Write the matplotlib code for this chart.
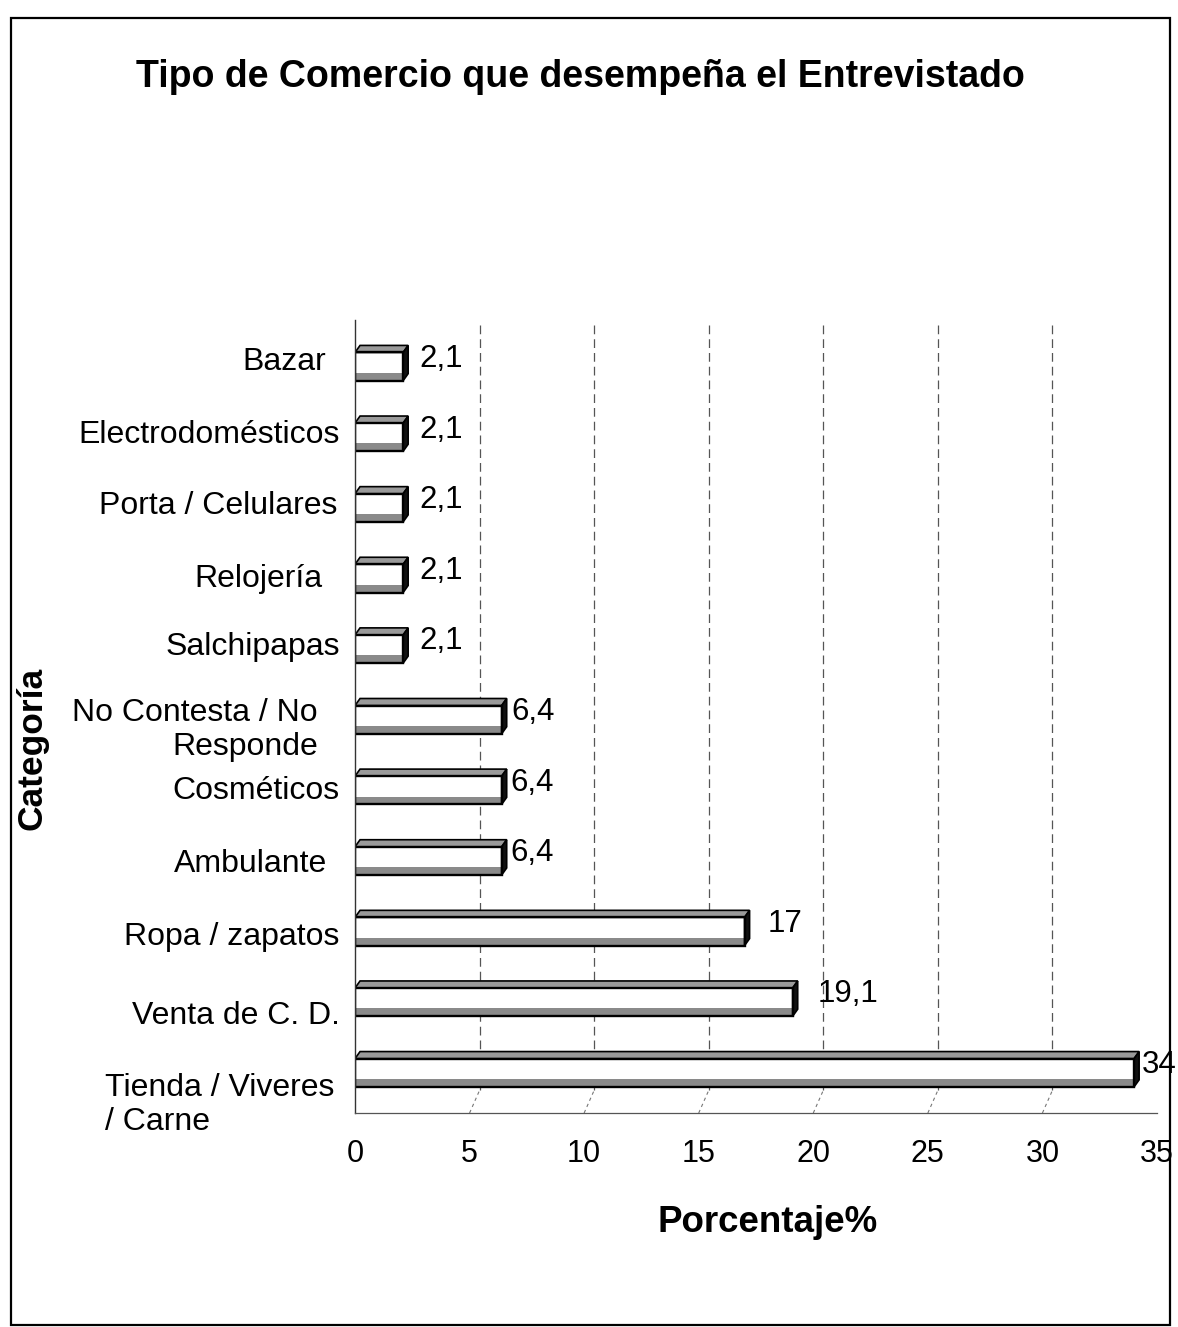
import matplotlib
matplotlib.use("Agg")
import matplotlib.pyplot as plt
from matplotlib.patches import Rectangle, Polygon
from matplotlib.transforms import ScaledTranslation

plt.rcParams['font.family'] = ['Liberation Sans', 'DejaVu Sans']

# ---- data ----
categories = ["Tienda / Viveres\n/ Carne", "Venta de C. D.", "Ropa / zapatos", "Ambulante",
              "Cosméticos", "No Contesta / No\nResponde", "Salchipapas", "Relojería",
              "Porta / Celulares", "Electrodomésticos", "Bazar"]
values = [34, 19.1, 17, 6.4, 6.4, 6.4, 2.1, 2.1, 2.1, 2.1, 2.1]
value_labels = ["34", "19,1", "17", "6,4", "6,4", "6,4", "2,1", "2,1", "2,1", "2,1", "2,1"]
x_ticks = [0, 5, 10, 15, 20, 25, 30, 35]
title = "Tipo de Comercio que desempeña el Entrevistado"
xlabel = "Porcentaje%"
ylabel = "Categoría"

# label nudges in pixels (dx, dy): perspective of original 3D chart
label_nudge = [(-5, 30), (0, 14), (0, 6), (-13, 3), (0, 1), (-22, 8),
               (0, -2), (-17, 1), (-2, -2), (0, -2), (-14, -5)]
# value-label gaps in pixels from the bar end
value_gap = [3, 20, 18, 4, 4, 5, 11, 11, 11, 11, 11]

W, H = 1178, 1327
fig = plt.figure(figsize=(W / 100, H / 100), dpi=100)
fig.patch.set_facecolor('white')

# outer frame
fig.add_artist(Rectangle((11 / W, 1 - 1325 / H), (1170 - 11) / W, (1325 - 18) / H,
                         transform=fig.transFigure, fill=False, edgecolor='black', lw=1.6))

ax = fig.add_axes([355 / W, 1 - 1113 / H, 802 / W, (1113 - 320) / H])
ax.set_xlim(0, 35)
ax.set_ylim(-0.62, 10.61)
ax.set_facecolor('none')

# back-wall gridlines (shifted right for depth), and floor diagonals
back = ax.transData + ScaledTranslation(10 / 100, 0, fig.dpi_scale_trans)
for t in x_ticks[1:-1]:
    ax.plot([t, t], [-0.30, 10.61], transform=back, color='#555555', lw=0.9,
            ls=(0, (7, 4)), zorder=0.5)
    ax.plot([t, t + 10 / 23], [-0.62, -0.30], color='#777777', lw=0.8,
            ls=(0, (3, 3)), zorder=0.5)

# 3D-ish bars
h = 0.40          # front face height (data units)
dx, dy = 0.22, 0.10  # depth offsets (data units)
for i, v in enumerate(values):
    y0 = i - 0.25
    y1 = y0 + h
    ax.add_patch(Rectangle((0, y0), v, h, facecolor='white', edgecolor='none', zorder=2))
    ax.add_patch(Rectangle((0, y0), v, h * 0.28, facecolor='#8a8a8a', edgecolor='none', zorder=2.1))
    ax.add_patch(Rectangle((0, y0), v, h, facecolor='none', edgecolor='black', lw=1.7, zorder=2.5))
    # top face
    ax.add_patch(Polygon([(0, y1), (v, y1), (v + dx, y1 + dy), (dx, y1 + dy)],
                         closed=True, facecolor='#9a9a9a', edgecolor='black', lw=1.2, zorder=2.4))
    # right side face
    ax.add_patch(Polygon([(v, y0), (v + dx, y0 + dy), (v + dx, y1 + dy), (v, y1)],
                         closed=True, facecolor='#111111', edgecolor='black', lw=1.2, zorder=2.4))
    ax.annotate(value_labels[i], xy=(v + dx, i), xytext=(value_gap[i] * 0.72, 3),
                textcoords='offset points', ha='left', va='center', fontsize=22.5,
                color='black', annotation_clip=False, zorder=3)

# axes styling
for s in ['top', 'right']:
    ax.spines[s].set_visible(False)
ax.spines['left'].set_color('#333333')
ax.spines['left'].set_linewidth(1.0)
ax.spines['bottom'].set_color('#555555')
ax.spines['bottom'].set_linewidth(0.9)

ax.set_xticks(x_ticks)
ax.set_xticklabels([str(t) for t in x_ticks], fontsize=22)
ax.tick_params(axis='x', length=0, pad=19)
ax.set_yticks(range(len(categories)))
ax.set_yticklabels(categories, fontsize=23)
ax.tick_params(axis='y', length=0, pad=11)

for lab, (ndx, ndy) in zip(ax.get_yticklabels(), label_nudge):
    lab.set_transform(lab.get_transform() + ScaledTranslation(ndx / 100, -ndy / 100, fig.dpi_scale_trans))
ylabs = ax.get_yticklabels()
ylabs[0].set_multialignment('left')
ylabs[5].set_multialignment('right')

fig.text(580 / W, 1 - 77 / H, title, ha='center', va='center', fontsize=27, fontweight='bold')
fig.text(768 / W, 1 - 1222 / H, xlabel, ha='center', va='center', fontsize=26.5, fontweight='bold')
fig.text(32 / W, 1 - 748 / H, ylabel, ha='center', va='center', rotation=90, fontsize=25.5,
         fontweight='bold')

fig.savefig('out.png', dpi=100, facecolor='white')
